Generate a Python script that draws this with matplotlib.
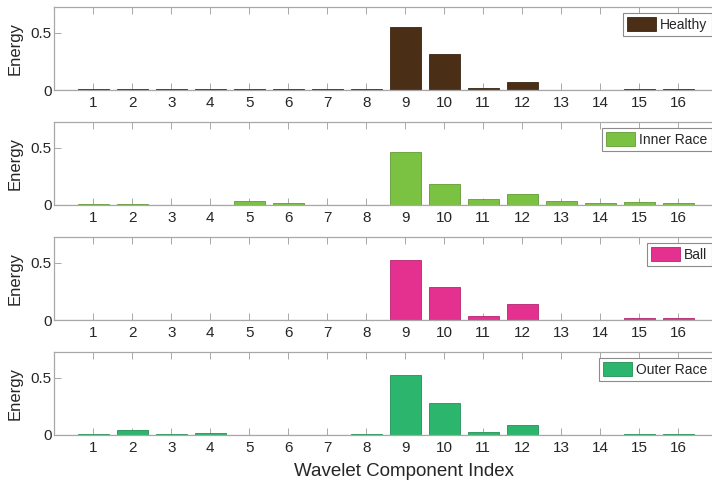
import matplotlib
matplotlib.use("Agg")
import matplotlib.pyplot as plt
import matplotlib.colors as mcolors

# Wavelet packet energy per component for each bearing condition
components = list(range(1, 17))
tick_labels = [str(c) for c in components]
conditions = ["Healthy", "Inner Race", "Ball", "Outer Race"]

healthy = [0.005, 0.008, 0.005, 0.005, 0.005, 0.005, 0.005, 0.005,
           0.552, 0.310, 0.020, 0.070, 0.004, 0.004, 0.005, 0.005]
inner_race = [0.010, 0.010, 0.004, 0.004, 0.038, 0.018, 0.003, 0.003,
              0.465, 0.183, 0.052, 0.100, 0.032, 0.015, 0.030, 0.020]
ball = [0.004, 0.004, 0.004, 0.004, 0.004, 0.004, 0.004, 0.004,
        0.526, 0.287, 0.032, 0.136, 0.004, 0.004, 0.017, 0.015]
outer_race = [0.010, 0.040, 0.010, 0.020, 0.004, 0.004, 0.004, 0.008,
              0.520, 0.280, 0.026, 0.086, 0.004, 0.004, 0.010, 0.010]

series = [healthy, inner_race, ball, outer_race]
colors = ["#4a2e15", "#7cc242", "#e4308f", "#2cb56c"]

plt.rcParams["font.family"] = ["Liberation Sans", "DejaVu Sans"]

W, H = 712, 487
fig = plt.figure(figsize=(W / 100, H / 100), dpi=100)

spine_col = "#a8a8a8"
text_col = "#262626"

left_px, right_px = 54.3, 717.3
for k, (name, vals, col) in enumerate(zip(conditions, series, colors)):
    top_px = 7.3 + 115 * k
    bot_px = 90.0 + 115 * k
    ax = fig.add_axes([left_px / W, 1 - bot_px / H,
                       (right_px - left_px) / W, (bot_px - top_px) / H])
    edge = tuple(c * 0.8 for c in mcolors.to_rgb(col))
    ax.bar(components, vals, width=0.8, color=col, edgecolor=edge,
           linewidth=0.6, label=name, zorder=2)
    ax.axhline(0, color="#9a9a9a", linewidth=0.8, zorder=1)
    ax.set_xlim(0, 17)
    ax.set_ylim(0, 0.72)
    ax.set_xticks(components)
    ax.set_xticklabels(tick_labels)
    ax.set_yticks([0, 0.5])
    ax.set_yticklabels(["0", "0.5"])
    ax.tick_params(axis="both", direction="in", length=5, width=0.6,
                   color="#9a9a9a", labelcolor=text_col, labelsize=11,
                   top=True, right=True)
    ax.tick_params(axis="x", pad=4)
    ax.tick_params(axis="y", pad=2)
    for sp in ax.spines.values():
        sp.set_color(spine_col)
        sp.set_linewidth(0.9)
    ax.set_ylabel("Energy", fontsize=12, color=text_col)
    ax.yaxis.set_label_coords(-0.048, 0.5)
    leg = ax.legend(loc="upper right", bbox_to_anchor=(1, 1),
                    borderaxespad=0.4, fontsize=10, handlelength=2.1,
                    handleheight=1.2, handletextpad=0.3, borderpad=0.3,
                    fancybox=False, framealpha=1)
    leg.get_frame().set_edgecolor("#8c8c8c")
    leg.get_frame().set_linewidth(0.8)
    for t in leg.get_texts():
        t.set_color(text_col)

fig.text(403.5 / W, 1 - 472 / H, "Wavelet Component Index",
         ha="center", va="center", fontsize=13.5, color=text_col)

fig.savefig("out.png", dpi=100)
